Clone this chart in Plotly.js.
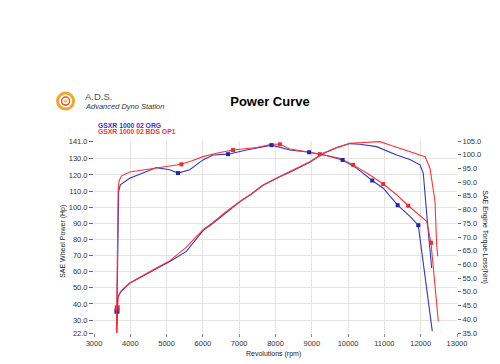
<!DOCTYPE html>
<html>
<head>
<meta charset="utf-8">
<script src="https://cdn.plot.ly/plotly-3.0.1.min.js"></script>
<style>html,body{margin:0;padding:0;background:#fff;}#chart{width:500px;height:364px;}</style>
</head>
<body>
<div id="chart"></div>
<script>
// ---- Data ----
const seriesNames = ['GSXR 1000 02 ORG', 'GSXR 1000 02 BDS OP1'];

// Wheel power (hp), left axis
const bluePowerRpm = [3620, 3632, 3655, 3700, 3760, 3982, 4400, 4718, 5100, 5545, 6003, 6279, 6600, 7015, 7350, 7658, 8118, 8394, 8945, 9313, 9682, 10048, 10324, 10785, 11337, 11700, 11980, 12071, 12180, 12302];
const bluePowerHp  = [20, 35.5, 43.5, 46, 48, 52.8, 57.8, 62, 66.5, 72.6, 85.5, 90, 96, 103.3, 108.3, 113.6, 118.8, 121.6, 127.8, 133.2, 136.8, 139.4, 139, 137.5, 132.3, 129.5, 126.2, 121, 92, 62.3];
const redPowerRpm  = [3620, 3640, 3660, 3700, 3760, 3982, 4400, 4718, 5100, 5545, 6003, 6279, 6600, 7015, 7350, 7658, 8118, 8394, 8945, 9313, 9682, 10048, 10600, 10876, 11152, 11704, 12118, 12256, 12394, 12440, 12468];
const redPowerHp   = [20, 37.6, 44, 46.5, 48.5, 53, 58, 62.3, 67, 75.2, 86, 90.5, 96.5, 103.5, 108.5, 113.8, 119, 122, 128.2, 133.4, 136.9, 139.6, 140.4, 140.6, 138.5, 134.4, 131.3, 124.1, 103.5, 76.7, 69.5];

// Engine torque (Nm), right axis
const blueTorqueRpm = [3620, 3678, 3725, 3982, 4400, 4718, 5085, 5314, 5637, 6003, 6279, 6693, 7200, 7890, 8395, 8927, 9406, 9848, 10234, 10664, 10968, 11365, 11704, 11933, 12319];
const blueTorqueNm  = [31, 86.5, 89, 91.4, 93.6, 95.3, 94.5, 93.3, 94.5, 98.1, 99.9, 100.2, 101.7, 103.5, 101.7, 100.9, 99.7, 98.1, 95.1, 90.6, 87.8, 81.6, 77.5, 74.3, 35.7];
const redTorqueRpm  = [3615, 3665, 3692, 3761, 3982, 4533, 4718, 5000, 5408, 5700, 6003, 6400, 6831, 7476, 7890, 8119, 8395, 8946, 9222, 9774, 10140, 10601, 10968, 11337, 11657, 12165, 12283, 12485];
const redTorqueNm   = [31, 87.2, 90.5, 92.3, 93.7, 94.8, 95.4, 95.8, 96.5, 97.8, 99.3, 100.6, 101.7, 102.6, 103.8, 103.8, 102.1, 100.9, 100.2, 98.7, 96.3, 92.6, 89.3, 85.4, 81.4, 75.7, 67.9, 39.3];

// Sample markers
const blueMarkRpm = [5314, 6693, 7890, 8927, 9848, 10664, 11365, 11933];
const blueMarkNm  = [93.3, 100.2, 103.5, 100.9, 98.1, 90.6, 81.6, 74.3];
const redMarkRpm  = [5408, 6831, 8119, 9222, 10140, 10968, 11657, 12283];
const redMarkNm   = [96.5, 101.7, 103.8, 100.2, 96.3, 89.3, 81.4, 67.9];
const startMarkRpm = [3632, 3640];
const startMarkHp  = [35.5, 37.6];

// Axis ticks
const xTicks = [3000, 4000, 5000, 6000, 7000, 8000, 9000, 10000, 11000, 12000, 13000];
const leftTicks = [22, 30, 40, 50, 60, 70, 80, 90, 100, 110, 120, 130, 141];
const rightTicks = [35, 40, 45, 50, 55, 60, 65, 70, 75, 80, 85, 90, 95, 100, 105];

// ---- Drawing ----
const BLUE = '#3434c8', RED = '#ff3434';
const FONT = 'Liberation Sans, Arial, sans-serif';

const traces = [
  {x: bluePowerRpm, y: bluePowerHp, mode: 'lines', line: {color: BLUE, width: 1.1}, yaxis: 'y', name: seriesNames[0]},
  {x: redPowerRpm, y: redPowerHp, mode: 'lines', line: {color: RED, width: 1.1}, yaxis: 'y', name: seriesNames[1]},
  {x: blueTorqueRpm, y: blueTorqueNm, mode: 'lines', line: {color: BLUE, width: 1.1}, yaxis: 'y2', name: seriesNames[0]},
  {x: redTorqueRpm, y: redTorqueNm, mode: 'lines', line: {color: RED, width: 1.1}, yaxis: 'y2', name: seriesNames[1]},
  {x: blueMarkRpm, y: blueMarkNm, mode: 'markers', marker: {color: '#2424b4', size: 4, symbol: 'square'}, yaxis: 'y2', cliponaxis: false},
  {x: redMarkRpm, y: redMarkNm, mode: 'markers', marker: {color: '#ee2a2a', size: 4, symbol: 'square'}, yaxis: 'y2', cliponaxis: false},
  {x: startMarkRpm, y: startMarkHp, mode: 'markers', marker: {color: ['#2424b4', '#ee2a2a'], size: 5, symbol: 'square'}, yaxis: 'y', cliponaxis: false}
];

const tickFont = {family: FONT, size: 7.5, color: '#333'};
const layout = {
  width: 500, height: 364,
  margin: {l: 94.4, r: 43, t: 141, b: 30.5},
  paper_bgcolor: '#fff', plot_bgcolor: '#fff',
  showlegend: false,
  font: {family: FONT},
  title: {text: '<b>Power Curve</b>', font: {family: FONT, size: 13, color: '#000'}, x: 0.54, xref: 'container', xanchor: 'center', y: 1 - 101/364, yref: 'container', yanchor: 'middle'},
  xaxis: {
    range: [3000, 13000], tickvals: xTicks, ticktext: xTicks.map(String),
    showgrid: true, gridcolor: '#e4e4e4', gridwidth: 1, zeroline: false, showline: false,
    ticks: 'outside', ticklen: 3, tickcolor: '#888', tickfont: tickFont
  },
  yaxis: {
    range: [22, 141], tickvals: leftTicks, ticktext: leftTicks.map(v => v.toFixed(1)),
    showgrid: true, gridcolor: '#e4e4e4', gridwidth: 1, zeroline: false, showline: false,
    ticks: 'outside', ticklen: 4, tickcolor: '#666', tickfont: tickFont
  },
  yaxis2: {
    range: [35, 105], overlaying: 'y', side: 'right', tickvals: rightTicks, ticktext: rightTicks.map(v => v.toFixed(1)),
    showgrid: false, zeroline: false, showline: false,
    ticks: 'outside', ticklen: 3, tickcolor: '#666', tickfont: tickFont
  },
  annotations: [
    {text: 'SAE Wheel Power (Hp)', xref: 'paper', yref: 'paper', x: -0.0852, y: 0.475, xanchor: 'center', yanchor: 'middle', textangle: -90, showarrow: false, font: {family: FONT, size: 7, color: '#222'}},
    {text: 'SAE Engine Torque-Loss(Nm)', xref: 'paper', yref: 'paper', x: 1.0772, y: 0.4987, xanchor: 'center', yanchor: 'middle', textangle: 90, showarrow: false, font: {family: FONT, size: 7, color: '#222'}},
    {text: 'Revolutions (rpm)', xref: 'paper', yref: 'paper', x: 0.4953, y: -0.109, xanchor: 'center', yanchor: 'middle', showarrow: false, font: {family: FONT, size: 7, color: '#222'}},
    {text: '<b>' + seriesNames[0] + '</b>', xref: 'paper', yref: 'paper', x: 0.0063, y: 1.0795, xanchor: 'left', yanchor: 'middle', showarrow: false, font: {family: FONT, size: 6.8, color: '#3434d0'}},
    {text: '<b>' + seriesNames[1] + '</b>', xref: 'paper', yref: 'paper', x: 0.0063, y: 1.0483, xanchor: 'left', yanchor: 'middle', showarrow: false, font: {family: FONT, size: 6.8, color: '#ff3434'}},
    {text: 'A.D.S.', xref: 'paper', yref: 'paper', x: -0.0314, y: 1.2301, xanchor: 'left', yanchor: 'middle', showarrow: false, font: {family: FONT, size: 9.5, color: '#555'}},
    {text: '<i>Advanced Dyno Station</i>', xref: 'paper', yref: 'paper', x: -0.0314, y: 1.1818, xanchor: 'left', yanchor: 'middle', showarrow: false, font: {family: FONT, size: 7.5, color: '#333'}}
  ],
  shapes: [
    {type: 'circle', xref: 'paper', yref: 'paper', xsizemode: 'pixel', ysizemode: 'pixel', xanchor: -0.0783, yanchor: 1.2078, x0: -8, x1: 8, y0: -8, y1: 8, line: {color: '#f5a52a', width: 3}, fillcolor: 'rgba(0,0,0,0)'},
    {type: 'circle', xref: 'paper', yref: 'paper', xsizemode: 'pixel', ysizemode: 'pixel', xanchor: -0.0783, yanchor: 1.2078, x0: -4, x1: 4, y0: -4, y1: 4, line: {color: '#e8532c', width: 1.5}, fillcolor: 'rgba(0,0,0,0)'},
    {type: 'circle', xref: 'paper', yref: 'paper', xsizemode: 'pixel', ysizemode: 'pixel', xanchor: -0.0783, yanchor: 1.2078, x0: -1.5, x1: 1.5, y0: -1.5, y1: 1.5, line: {width: 0}, fillcolor: '#f5c030'}
  ]
};

Plotly.newPlot('chart', traces, layout, {staticPlot: true, displayModeBar: false});
</script>
</body>
</html>
